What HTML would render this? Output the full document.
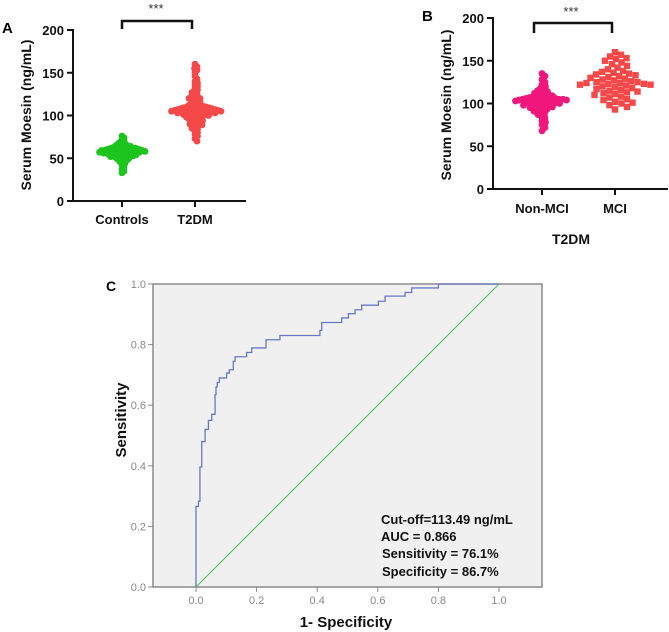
<!DOCTYPE html>
<html><head><meta charset="utf-8">
<style>
body{margin:0;background:#fff;}
svg{display:block;font-family:"Liberation Sans",Arial,sans-serif;}
</style></head>
<body>
<svg id="fig" width="669" height="632" viewBox="0 0 669 632" xmlns="http://www.w3.org/2000/svg">
<g>
<text x="2" y="33" font-size="15" font-weight="bold">A</text>
<text transform="translate(31,115) rotate(-90)" text-anchor="middle" font-size="14" font-weight="bold" fill="#111">Serum Moesin (ng/mL)</text>
<line x1="73" y1="29" x2="73" y2="202" stroke="#111" stroke-width="2"/>
<line x1="72" y1="201" x2="246" y2="201" stroke="#111" stroke-width="2"/>
<g id="aTicks"></g>
<g id="aDots"></g>
<path d="M122,29 V21 H192 V29" fill="none" stroke="#111" stroke-width="2.5"/>
<text x="156" y="13" text-anchor="middle" font-size="13" fill="#333">***</text>
<text x="122" y="224" text-anchor="middle" font-size="13" font-weight="bold" fill="#111">Controls</text>
<text x="195" y="224" text-anchor="middle" font-size="13" font-weight="bold" fill="#111">T2DM</text>
</g>
<g>
<text x="422" y="21" font-size="15" font-weight="bold">B</text>
<text transform="translate(451,105) rotate(-90)" text-anchor="middle" font-size="14" font-weight="bold" fill="#111">Serum Moesin (ng/mL)</text>
<line x1="493" y1="17" x2="493" y2="190" stroke="#111" stroke-width="2"/>
<line x1="492" y1="189" x2="668" y2="189" stroke="#111" stroke-width="2"/>
<g id="bTicks"></g>
<g id="bDots"></g>
<path d="M534,33 V23 H612 V33" fill="none" stroke="#111" stroke-width="2.5"/>
<text x="571" y="16" text-anchor="middle" font-size="13" fill="#333">***</text>
<text x="542" y="213" text-anchor="middle" font-size="13" font-weight="bold" fill="#111">Non-MCI</text>
<text x="615" y="213" text-anchor="middle" font-size="13" font-weight="bold" fill="#111">MCI</text>
<text x="571" y="244" text-anchor="middle" font-size="14" font-weight="bold" fill="#111">T2DM</text>
</g>
<g>
<text x="106" y="291" font-size="14" font-weight="bold">C</text>
<rect x="153" y="284" width="389" height="303" fill="#f0f0f0" stroke="#8a8a8a" stroke-width="1.5"/>
<g id="cTicks"></g>
<line id="refLine" stroke="#5cc46e" stroke-width="1.2"/>
<polyline id="rocLine" fill="none" stroke="#6a78c4" stroke-width="1.3"/>
<text transform="translate(126,420) rotate(-90)" text-anchor="middle" font-size="15" font-weight="bold" fill="#111">Sensitivity</text>
<text x="346" y="627" text-anchor="middle" font-size="15" font-weight="bold" fill="#111">1- Specificity</text>
<g font-size="13" font-weight="bold" fill="#111">
<text x="381" y="524">Cut-off=113.49 ng/mL</text>
<text x="381" y="541">AUC = 0.866</text>
<text x="382" y="558">Sensitivity = 76.1%</text>
<text x="382" y="576">Specificity = 86.7%</text>
</g>
</g>
</svg>
<script>
const scatterTicks = [0, 50, 100, 150, 200];
const controlsValues = [33,35,37,40,42,44,45,46,47,48,48,49,50,50,50,51,51,52,52,52,53,53,53,53,54,54,54,55,55,55,55,55,56,56,56,56,56,57,57,57,57,57,57,58,58,58,58,58,58,58,59,59,59,59,59,59,60,60,60,60,60,60,61,61,61,61,61,62,62,62,62,63,63,63,64,64,64,65,65,66,66,67,68,69,70,72,74,76];
const t2dmValues = [70,73,76,78,80,82,84,85,86,88,89,90,90,91,92,93,94,95,95,96,97,98,98,99,99,100,100,100,101,101,102,102,102,103,103,103,103,104,104,104,104,105,105,105,105,105,106,106,106,106,106,107,107,107,107,108,108,108,108,109,109,109,110,110,110,111,111,112,112,113,114,115,116,117,118,119,120,120,121,122,123,125,127,128,130,132,134,136,138,140,143,146,150,153,155,157,160];
const nonMciValues = [68,72,75,78,80,83,85,87,88,90,91,92,93,94,95,96,96,97,98,98,99,99,100,100,101,101,102,102,102,103,103,103,104,104,104,105,105,105,105,106,106,106,107,107,108,108,109,110,110,111,112,113,114,115,116,118,120,122,125,128,132,135];
const mciValues = [93,96,98,100,101,102,104,105,107,108,110,111,112,113,114,115,116,117,118,119,120,121,122,122,123,123,124,124,125,125,126,127,128,129,130,131,132,133,134,135,136,137,138,140,142,144,146,148,150,152,153,155,157,160];
const rocFpr = [0,0,0.008,0.013,0.019,0.030,0.041,0.052,0.063,0.066,0.070,0.077,0.101,0.110,0.123,0.129,0.134,0.167,0.184,0.231,0.277,0.409,0.415,0.426,0.481,0.503,0.525,0.547,0.602,0.624,0.690,0.712,0.80,1.0];
const rocTpr = [0,0.266,0.283,0.396,0.48,0.52,0.55,0.57,0.635,0.66,0.675,0.69,0.706,0.717,0.745,0.76,0.76,0.774,0.789,0.816,0.83,0.847,0.873,0.873,0.888,0.902,0.915,0.93,0.943,0.96,0.972,0.987,1.0,1.0];
const rocTicks = [0, 0.2, 0.4, 0.6, 0.8, 1.0];

const NS='http://www.w3.org/2000/svg';
function mk(tag, parent){const e=document.createElementNS(NS,tag);parent.appendChild(e);return e;}

function swarm(ys,d){
  const placed=[];const xs=new Array(ys.length);
  const order=ys.map((y,i)=>i).sort((a,b)=>ys[a]-ys[b]);
  order.forEach(i=>{
    const y=ys[i];
    for(let s=0;s<400;s++){
      const off=((s+1)>>1)*(s%2?1:-1)*0.5;
      let ok=true;
      for(const p of placed){const dx=p[0]-off,dy=p[1]-y;if(dx*dx+dy*dy<d*d){ok=false;break;}}
      if(ok){xs[i]=off;placed.push([off,y]);break;}
    }
  });
  return xs;
}

function scatterPanel(gTicks,gDots,axisX,y0,y200,groups){
  const yS=v=>y0+(y200-y0)*v/200;
  scatterTicks.forEach(t=>{
    const l=mk('line',gTicks);
    l.setAttribute('x1',axisX-6);l.setAttribute('x2',axisX);l.setAttribute('y1',yS(t));l.setAttribute('y2',yS(t));
    l.setAttribute('stroke','#111');l.setAttribute('stroke-width','2');
    
    
    const tx=mk('text',gTicks);
    tx.setAttribute('x',axisX-9);tx.setAttribute('y',yS(t)+5);tx.setAttribute('text-anchor','end');
    tx.setAttribute('font-size','13');tx.setAttribute('font-weight','bold');tx.setAttribute('fill','#111');
    tx.textContent=t;
    
    
  });
  groups.forEach(g=>{
    const l=mk('line',gTicks);
    l.setAttribute('x1',g.cx);l.setAttribute('x2',g.cx);l.setAttribute('y1',y0);l.setAttribute('y2',y0+6);
    l.setAttribute('stroke','#111');l.setAttribute('stroke-width','2');
    
    
    const ys=g.vals.map(yS);
    const xs=swarm(ys,g.d);
    g.vals.forEach((v,i)=>{
      const cx=g.cx+xs[i], cy=ys[i];
      let e;
      if(g.square){e=mk('rect',gDots);e.setAttribute('x',cx-3.2);e.setAttribute('y',cy-3.2);e.setAttribute('width',6.4);e.setAttribute('height',6.4);}
      else{e=mk('circle',gDots);e.setAttribute('cx',cx);e.setAttribute('cy',cy);e.setAttribute('r',3.4);}
      e.setAttribute('fill',g.color);
      
      
    });
  });
}
scatterPanel(document.getElementById('aTicks'),document.getElementById('aDots'),73,201,30,[
  {cx:122,vals:controlsValues,color:'#1ec41e',name:'controls-point',d:2.5},
  {cx:195,vals:t2dmValues,color:'#f54848',name:'t2dm-point',d:3.0}]);
scatterPanel(document.getElementById('bTicks'),document.getElementById('bDots'),493,189,18,[
  {cx:542,vals:nonMciValues,color:'#f0167c',name:'non-mci-point',d:3.6},
  {cx:615,vals:mciValues,color:'#f54848',square:true,name:'mci-point',d:6.3}]);

const xS=v=>196+303*v, yR=v=>587-303*v;
const ct=document.getElementById('cTicks');
rocTicks.forEach(t=>{
  const l=mk('line',ct);
  l.setAttribute('x1',148);l.setAttribute('x2',153);l.setAttribute('y1',yR(t));l.setAttribute('y2',yR(t));
  l.setAttribute('stroke','#8a8a8a');
  
  
  const tx=mk('text',ct);
  tx.setAttribute('x',146);tx.setAttribute('y',yR(t)+4);tx.setAttribute('text-anchor','end');
  tx.setAttribute('font-size','11');tx.setAttribute('fill','#888');tx.textContent=t.toFixed(1);
  
  
  const l2=mk('line',ct);
  l2.setAttribute('x1',xS(t));l2.setAttribute('x2',xS(t));l2.setAttribute('y1',587);l2.setAttribute('y2',592);
  l2.setAttribute('stroke','#8a8a8a');
  
  
  const tx2=mk('text',ct);
  tx2.setAttribute('x',xS(t));tx2.setAttribute('y',604);tx2.setAttribute('text-anchor','middle');
  tx2.setAttribute('font-size','11');tx2.setAttribute('fill','#888');tx2.textContent=t.toFixed(1);
  
  
});
const rl=document.getElementById('refLine');
rl.setAttribute('x1',xS(0));rl.setAttribute('y1',yR(0));rl.setAttribute('x2',xS(1));rl.setAttribute('y2',yR(1));
const pts=[xS(rocFpr[0])+','+yR(rocTpr[0])];
for(let i=1;i<rocFpr.length;i++){
  pts.push(xS(rocFpr[i])+','+yR(rocTpr[i-1]));
  pts.push(xS(rocFpr[i])+','+yR(rocTpr[i]));
}
document.getElementById('rocLine').setAttribute('points',pts.join(' '));
</script>
</body></html>
